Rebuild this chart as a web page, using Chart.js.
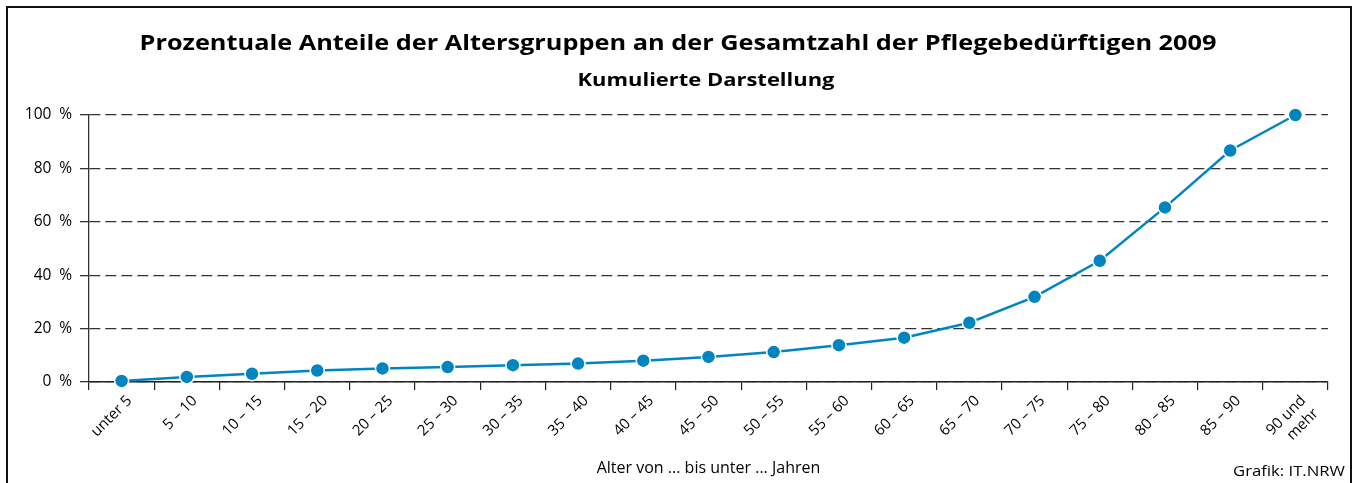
<!DOCTYPE html>
<html lang="de">
<head>
<meta charset="utf-8">
<script src="https://cdn.jsdelivr.net/npm/chart.js@4.4.0/dist/chart.umd.min.js"></script>
<style>
  body { margin: 0; background: #fff; }
  #rahmen { position: absolute; left: 6px; top: 6px; width: 1342px; height: 600px; border: 2px solid #111; }
  #wrap { position: absolute; left: 0; top: 0; width: 1356px; height: 483px; }
</style>
</head>
<body>
<div id="rahmen"></div>
<div id="wrap"><canvas id="grafik" width="1356" height="483"></canvas></div>
<script>
// DATEN
const altersgruppen = ['unter 5', '5 – 10', '10 – 15', '15 – 20', '20 – 25', '25 – 30', '30 – 35', '35 – 40',
  '40 – 45', '45 – 50', '50 – 55', '55 – 60', '60 – 65', '65 – 70', '70 – 75', '75 – 80', '80 – 85', '85 – 90',
  ['90 und', 'mehr']];
const kumuliert = [0.4, 1.9, 3.1, 4.3, 5.1, 5.6, 6.3, 6.9, 8.0, 9.4, 11.2, 13.8, 16.6, 22.2, 31.9, 45.4, 65.4, 86.7, 100];
const yTicks = [0, 20, 40, 60, 80, 100];

const titel = 'Prozentuale Anteile der Altersgruppen an der Gesamtzahl der Pflegebedürftigen 2009';
const untertitel = 'Kumulierte Darstellung';
const quelle = 'Grafik: IT.NRW';

const schrift = '"Open Sans", "Noto Sans", sans-serif';
const blau = '#0085c0';

// text horizontal auf die breite der vorlage ziehen (Frutiger ist breiter als Open Sans)
function textMitBreite(ctx, text, x, y, breite) {
  const f = breite / ctx.measureText(text).width;
  ctx.save();
  ctx.translate(x, y);
  ctx.scale(f, 1);
  ctx.fillText(text, 0, 0);
  ctx.restore();
}

// TITEL UND QUELLE
const texte = {
  id: 'texte',
  afterDraw(chart) {
    const ctx = chart.ctx;
    ctx.save();
    ctx.fillStyle = '#000';
    ctx.textAlign = 'center';
    ctx.textBaseline = 'alphabetic';
    ctx.font = 'bold 22px ' + schrift;
    textMitBreite(ctx, titel, 678, 50, 1077);
    ctx.font = 'bold 18px ' + schrift;
    textMitBreite(ctx, untertitel, 706, 86, 257);
    ctx.font = '14.5px ' + schrift;
    ctx.textAlign = 'right';
    textMitBreite(ctx, quelle, 1345, 476, 112);
    ctx.restore();
  }
};

new Chart(document.getElementById('grafik'), {
  type: 'line',
  data: {
    labels: altersgruppen,
    datasets: [{
      data: kumuliert,
      borderColor: blau,
      borderWidth: 2.5,
      backgroundColor: blau,
      pointBackgroundColor: blau,
      pointBorderColor: '#fff',
      pointBorderWidth: 1.5,
      pointRadius: 7,
      tension: 0,
      clip: false
    }]
  },
  options: {
    responsive: false,
    animation: false,
    layout: { padding: { top: 115, right: 28, left: 0, bottom: 0 } },
    plugins: {
      legend: { display: false },
      tooltip: { enabled: false }
    },
    scales: {
      x: {
        offset: true,
        afterFit(scale) { scale.height = 101; },
        grid: { drawOnChartArea: false, drawTicks: true, tickLength: 8, offset: true, color: '#222', lineWidth: 1.2 },
        border: { display: true, color: '#222', width: 1.5 },
        ticks: { color: '#000', font: { family: schrift, size: 15 }, maxRotation: 45, minRotation: 45, autoSkip: false, padding: 2, labelOffset: 8 },
        title: { display: true, text: 'Alter von ... bis unter ... Jahren', color: '#000', font: { family: schrift, size: 16 }, padding: { top: 0, bottom: 5 } }
      },
      y: {
        min: 0,
        max: 100,
        afterFit(scale) { scale.width = 89; },
        afterBuildTicks(scale) { scale.ticks = yTicks.map(v => ({ value: v })); },
        grid: { color: '#333', lineWidth: 1.3, tickBorderDash: [20, 0], tickLength: 9, tickColor: '#333' },
        border: { display: true, color: '#333', width: 1.3, dash: [11, 5] },
        ticks: { color: '#000', font: { family: schrift, size: 15.5 }, padding: 8, callback: v => v + '\u2002%' }
      }
    }
  },
  plugins: [texte]
});
</script>
</body>
</html>
